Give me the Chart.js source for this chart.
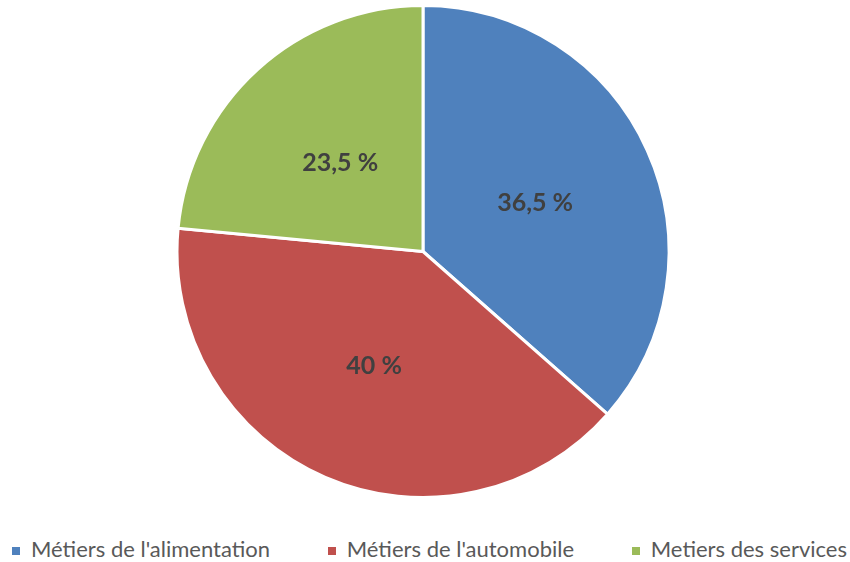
<!DOCTYPE html>
<html lang="fr">
<head>
    <meta charset="UTF-8">
    <title>Répartition des métiers</title>
    <script src="https://cdn.jsdelivr.net/npm/chart.js"></script>
    <style>
        body {
            margin: 0;
            padding: 0;
            background-color: #ffffff;
            font-family: 'Lato', sans-serif;
        }
        .chart-container {
            width: 850px;
            height: 500px;
        }
        .legend {
            display: flex;
            justify-content: space-between;
            width: 850px;
            box-sizing: border-box;
            padding: 0 3px 0 12px;
            margin-top: 36px;
            line-height: 26px;
            font-size: 22px;
            color: #595959;
            white-space: nowrap;
        }
        .legend-item {
            display: flex;
            align-items: center;
        }
        .legend-box {
            width: 8px;
            height: 8px;
            margin-right: 11px;
            margin-top: 3px;
        }
    </style>
</head>
<body>
    <div class="chart-container">
        <canvas id="pieChart"></canvas>
    </div>
    <div id="legend" class="legend"></div>

    <script>
        const categories = ["Métiers de l'alimentation", "Métiers de l'automobile", "Metiers des services"];
        const shares = [36.5, 40, 23.5];
        const sliceColors = ['#4F81BD', '#C0504D', '#9BBB59'];

        // write the percentage in the middle of each slice
        const sliceLabels = {
            id: 'sliceLabels',
            afterDatasetsDraw(chart) {
                const ctx = chart.ctx;
                const meta = chart.getDatasetMeta(0);
                ctx.save();
                ctx.font = 'bold 25px Lato';
                ctx.fillStyle = '#404040';
                ctx.textAlign = 'center';
                ctx.textBaseline = 'middle';
                meta.data.forEach((arc, i) => {
                    const pos = arc.tooltipPosition();
                    const text = String(shares[i]).replace('.', ',') + ' %';
                    ctx.fillText(text, pos.x, pos.y + 2);
                });
                ctx.restore();
            }
        };

        const pieChart = new Chart(document.getElementById('pieChart'), {
            type: 'pie',
            data: {
                labels: categories,
                datasets: [{
                    data: shares,
                    backgroundColor: sliceColors,
                    borderColor: '#ffffff',
                    borderWidth: 3
                }]
            },
            options: {
                responsive: true,
                maintainAspectRatio: false,
                animation: false,
                layout: {
                    padding: { top: 4, left: 0, right: 4, bottom: 1 }
                },
                plugins: {
                    legend: { display: false },
                    tooltip: { enabled: false }
                }
            },
            plugins: [sliceLabels]
        });

        // legend built from the chart's own legend items
        const legendEl = document.getElementById('legend');
        const items = pieChart.options.plugins.legend.labels.generateLabels(pieChart);
        items.forEach(item => {
            const row = document.createElement('div');
            row.className = 'legend-item';
            const box = document.createElement('span');
            box.className = 'legend-box';
            box.style.backgroundColor = item.fillStyle;
            const label = document.createElement('span');
            label.textContent = item.text;
            row.appendChild(box);
            row.appendChild(label);
            legendEl.appendChild(row);
        });
    </script>
</body>
</html>
